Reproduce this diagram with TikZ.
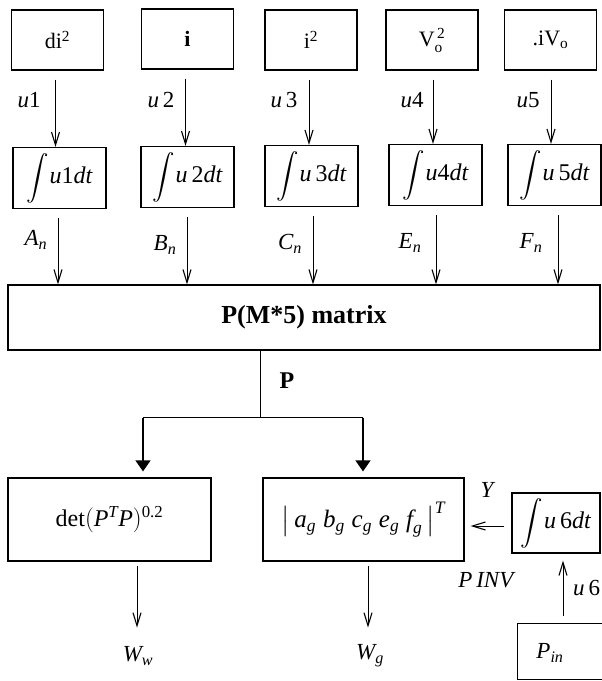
\documentclass[tikz,border=0pt]{standalone}
\usepackage{amsmath}
\usepackage{graphicx}
\usepackage{fontspec}
\setmainfont{Liberation Serif}
\usetikzlibrary{arrows.meta,calc}

\newcommand{\mi}[1]{\textit{#1}}
\newcommand{\intsym}{\scalebox{0.9}{$\displaystyle\int$}\kern1pt}

\begin{document}
\begin{tikzpicture}[x=1pt,y=-1pt,
  box/.style={draw, line width=1.2pt, inner sep=0pt, font=\fontsize{22}{26}\selectfont},
  topbox/.style={box, minimum width=92, minimum height=60},
  intbox/.style={box, minimum width=93, minimum height=61, font=\fontsize{24}{28}\selectfont},
  lbl/.style={inner sep=0pt, font=\fontsize{23}{27}\selectfont},
  wire/.style={line width=1pt},
  flow/.style={line width=1pt, -{Straight Barb[length=13pt,width=8pt,line width=1.1pt]}},
  tri/.style={line width=1.2pt, -{Triangle[length=11pt,width=15pt]}}]
\useasboundingbox (0,0) rectangle (602,681);
\clip (0,0) rectangle (602,681);

% quantities fed to the integrators
\node[topbox] (t1) at (57.5,40) {di\textsuperscript{2}};
\node[topbox] (t2) at (187.5,39) {\textbf{i}};
\node[topbox] (t3) at (311,40) {i\textsuperscript{2}};
\node[topbox] (t4) at (432,40) {$\text{V}_{\text{o}}^{\,\text{2}}$};
\node[topbox] (t5) at (550.5,40) {.iV$_{\text{o}}$};

% integrators
\node[intbox] (g1) at (59.5,178) {\intsym\mi{u}1\mi{dt}};
\node[intbox] (g2) at (187.5,177) {\intsym\mi{u}\,2\mi{dt}};
\node[intbox] (g3) at (311.5,176) {\intsym\mi{u}\,3\mi{dt}};
\node[intbox] (g4) at (435.5,175) {\intsym\mi{u}4\mi{dt}};
\node[intbox] (g5) at (554.5,175) {\intsym\mi{u}\,5\mi{dt}};

% matrix assembly
\node[box, minimum width=592, minimum height=65, font=\fontsize{26}{30}\selectfont] (pm) at (304,317.5) {\textbf{P(M*5) matrix}};

% inputs -> integrators
\draw[flow] ($(t1.south)+(-2,9)$) -- ($(t1.south |- g1.north)+(-2,0)$);
\draw[flow] ($(t2.south)+(-2,9)$) -- ($(t2.south |- g2.north)+(-2,0)$);
\draw[flow] ($(t3.south)+(-2,9)$) -- ($(t3.south |- g3.north)+(-2,0)$);
\draw[flow] ($(t4.south)+(1,9)$) -- ($(t4.south |- g4.north)+(1,0)$);
\draw[flow] ($(t5.south)+(0.5,9)$) -- ($(t5.south |- g5.north)+(0.5,0)$);
\node[lbl] (lu1) at (29,100) {\mi{u}1};
\node[lbl] (lu2) at (161,100) {\mi{u}\,2};
\node[lbl] (lu3) at (284,100) {\mi{u}\,3};
\node[lbl] (lu4) at (412,100) {\mi{u}4};
\node[lbl] (lu5) at (528,100) {\mi{u}5};

% integrators -> matrix
\draw[flow] ($(g1.south)+(-1.5,9)$) -- ($(g1.south |- pm.north)+(-1.5,0)$);
\draw[flow] ($(g2.south)+(-0.5,9)$) -- ($(g2.south |- pm.north)+(-0.5,0)$);
\draw[flow] ($(g3.south)+(1.5,9)$) -- ($(g3.south |- pm.north)+(1.5,0)$);
\draw[flow] ($(g4.south)+(0.5,9)$) -- ($(g4.south |- pm.north)+(0.5,0)$);
\draw[flow] ($(g5.south)+(3.5,9)$) -- ($(g5.south |- pm.north)+(3.5,0)$);
\node[lbl] (la) at (36,240) {$\mi{A}_{\mi{n}}$};
\node[lbl] (lb) at (165,245) {$\mi{B}_{\mi{n}}$};
\node[lbl] (lc) at (290,244) {$\mi{C}_{\mi{n}}$};
\node[lbl] (le) at (410,243) {$\mi{E}_{\mi{n}}$};
\node[lbl] (lf) at (531,243) {$\mi{F}_{\mi{n}}$};

% weight blocks
\node[box, minimum width=203, minimum height=83, font=\fontsize{24}{28}\selectfont] (det) at (109.5,519.5)
  {$\text{det}(\mi{P}^{\mi{T}}\mi{P})^{\text{0.2}}$};
\node[box, minimum width=201, minimum height=83, font=\fontsize{25}{29}\selectfont] (gb) at (363.5,519.5)
  {$\left|\,\mi{a}_{\mi{g}}\;\mi{b}_{\mi{g}}\;\mi{c}_{\mi{g}}\;\mi{e}_{\mi{g}}\;\mi{f}_{\mi{g}}\,\right|^{\mi{T}}$};
\node[intbox, minimum width=88, minimum height=60] (g6) at (556,523) {\intsym\mi{u}\,6\mi{dt}};
\node[box, minimum width=130, minimum height=56, anchor=north west] (pin) at (517,623) {};
\node[lbl] (pinl) at (550,653) {$\mi{P}_{\mi{in}}$};

% P split
\coordinate (j) at ($(pm.south)+(-44,67)$);
\coordinate (jl) at ($(j)+(-117,0)$);
\coordinate (jr) at ($(j)+(103,0)$);
\draw[wire] (pm.south -| j) -- (j);
\draw[wire] (jl) -- (jr);
\draw[tri] (jl) -- ($(det.north -| jl)+(0,-6)$);
\draw[tri] (jr) -- ($(gb.north -| jr)+(0,-6)$);
\node[lbl, font=\fontsize{24}{28}\selectfont\bfseries] (lp) at (287,381) {P};

% outputs
\draw[flow] ($(det.south)+(27.5,4)$) -- ($(det.south)+(27.5,66)$);
\draw[flow] ($(gb.south)+(4.5,4)$) -- ($(gb.south)+(4.5,66)$);
\node[lbl] (lww) at (138,656) {$\mi{W}_{\mi{w}}$};
\node[lbl] (lwg) at (370,656) {$\mi{W}_{\mi{g}}$};

% feedback path
\draw[flow] ($(g6.west)+(-7,3)$) -- ($(gb.east |- g6.west)+(6,3)$);
\draw[flow] ($(pin.north west)+(46,-7)$) -- ($(g6.south)+(7,7)$);
\node[lbl] (ly) at (488,490) {\mi{Y}};
\node[lbl] (lpinv) at (487,580) {\mi{P\,INV}};
\node[lbl, anchor=west] (lu6) at (573,588) {\mi{u}\,6};
\end{tikzpicture}
\end{document}
